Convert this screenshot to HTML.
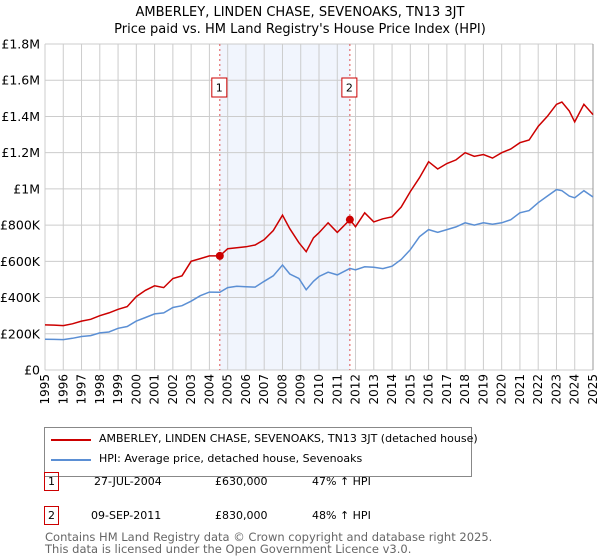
<!DOCTYPE html>
<html><head><meta charset="utf-8"><style>
body{margin:0;background:#fff;font-family:"Liberation Sans","DejaVu Sans",sans-serif;}
#wrap{position:relative;width:600px;height:560px;overflow:hidden}
.t{position:absolute;font-size:12px;color:#000;white-space:nowrap}
</style></head><body>
<div id="wrap">
<svg id="chart" width="600" height="560" style="position:absolute;left:0;top:0">
<text x="300" y="16" text-anchor="middle" font-size="13" font-family="DejaVu Sans, sans-serif">AMBERLEY, LINDEN CHASE, SEVENOAKS, TN13 3JT</text>
<text x="300" y="33" text-anchor="middle" font-size="13" font-family="DejaVu Sans, sans-serif">Price paid vs. HM Land Registry's House Price Index (HPI)</text>
<g id="plot"></g>
</svg>
<div style="position:absolute;left:44px;top:427px;width:428px;height:50px;border:1px solid #888;box-sizing:border-box">
 <div style="position:absolute;left:6px;top:11px;width:40px;height:2px;background:#cc0000"></div>
 <div style="position:absolute;left:54px;top:4px;font-size:11px;white-space:nowrap;font-family:'DejaVu Sans',sans-serif">AMBERLEY, LINDEN CHASE, SEVENOAKS, TN13 3JT (detached house)</div>
 <div style="position:absolute;left:6px;top:31px;width:40px;height:2px;background:#5b8fd4"></div>
 <div style="position:absolute;left:54px;top:24px;font-size:11px;white-space:nowrap;font-family:'DejaVu Sans',sans-serif">HPI: Average price, detached house, Sevenoaks</div>
</div>
<div>
<div style="position:absolute;left:44px;top:472px;width:15px;height:19px;border:1px solid #cc0000;box-sizing:border-box;font-size:11px;text-align:center;line-height:17px;font-family:'DejaVu Sans',sans-serif">1</div>
<div class="t" style="left:94px;top:475px;font-size:11px;font-family:'DejaVu Sans',sans-serif">27-JUL-2004</div>
<div class="t" style="left:215px;top:475px;font-size:11px;font-family:'DejaVu Sans',sans-serif">£630,000</div>
<div class="t" style="left:312px;top:475px;font-size:11px;font-family:'DejaVu Sans',sans-serif">47% ↑ HPI</div>
</div>
<div>
<div style="position:absolute;left:44px;top:506px;width:15px;height:19px;border:1px solid #cc0000;box-sizing:border-box;font-size:11px;text-align:center;line-height:17px;font-family:'DejaVu Sans',sans-serif">2</div>
<div class="t" style="left:91px;top:509px;font-size:11px;font-family:'DejaVu Sans',sans-serif">09-SEP-2011</div>
<div class="t" style="left:215px;top:509px;font-size:11px;font-family:'DejaVu Sans',sans-serif">£830,000</div>
<div class="t" style="left:312px;top:509px;font-size:11px;font-family:'DejaVu Sans',sans-serif">48% ↑ HPI</div>
</div>
<div class="t" style="left:45px;top:531px;font-size:11.5px;color:#666;line-height:12px;font-family:'DejaVu Sans',sans-serif">Contains HM Land Registry data © Crown copyright and database right 2025.<br>This data is licensed under the Open Government Licence v3.0.</div>
</div>
<script>
const years=[1995,1995.5,1996,1996.5,1997,1997.5,1998,1998.5,1999,1999.5,2000,2000.5,2001,2001.5,2002,2002.5,2003,2003.5,2004,2004.57,2005,2005.5,2006,2006.5,2007,2007.5,2008,2008.4,2008.9,2009.3,2009.7,2010,2010.5,2011,2011.69,2012,2012.5,2013,2013.5,2014,2014.5,2015,2015.5,2016,2016.5,2017,2017.5,2018,2018.5,2019,2019.5,2020,2020.5,2021,2021.5,2022,2022.5,2023,2023.3,2023.7,2024,2024.5,2025];
const hpi=[170,169,168,175,185,190,205,210,230,240,270,290,310,315,345,355,380,410,430,429,455,462,460,458,490,520,580,530,505,443,490,516,540,525,561,553,570,567,560,573,610,664,736,775,760,775,790,813,800,813,805,813,830,868,880,924,960,996,990,960,951,990,955];
const price=[249,248,245,255,270,280,300,315,335,350,405,440,465,455,505,520,600,615,630,630,670,675,680,690,720,770,855,780,703,653,730,758,813,760,830,791,868,818,835,846,900,985,1062,1150,1110,1140,1160,1200,1180,1190,1170,1200,1220,1255,1270,1345,1400,1467,1480,1430,1370,1467,1410];
const yTicks=[0,200,400,600,800,1000,1200,1400,1600,1800];
const yLabels=["£0","£200K","£400K","£600K","£800K","£1M","£1.2M","£1.4M","£1.6M","£1.8M"];
const sales=[{n:"1",year:2004.57,v:630},{n:"2",year:2011.69,v:830}];
const X0=45,X1=593,Y0=370,Y1=44;
const xs=y=>X0+(y-1995)/30*(X1-X0);
const ys=v=>Y0-v/1800*(Y0-Y1);
const NS="http://www.w3.org/2000/svg";
const g=document.getElementById('plot');
function mk(t,a){const e=document.createElementNS(NS,t);for(const k in a)e.setAttribute(k,a[k]);g.appendChild(e);return e;}
let r=mk('rect',{x:xs(sales[0].year),y:Y1,width:xs(sales[1].year)-xs(sales[0].year),height:Y0-Y1,fill:'#eef3fc',opacity:0.8});


for(let yr=1995;yr<=2025;yr++){
 let l=mk('line',{x1:xs(yr),x2:xs(yr),y1:Y1,y2:Y0,stroke:'#cccccc','stroke-width':1});
 
 
 let t=mk('text',{x:0,y:0,'font-size':12,'font-family':'DejaVu Sans, sans-serif','text-anchor':'end',transform:`translate(${xs(yr)+4},374) rotate(-90)`});
 t.textContent=yr;
 
 
}
yTicks.forEach((v,i)=>{
 let l=mk('line',{x1:X0,x2:X1,y1:ys(v),y2:ys(v),stroke:'#cccccc','stroke-width':1});
 
 
 let t=mk('text',{x:40,y:ys(v)+4.5,'font-size':12.5,'font-family':'DejaVu Sans, sans-serif','text-anchor':'end'});
 t.textContent=yLabels[i];
 
 
});
let ax=mk('line',{x1:X1,x2:X1,y1:Y1,y2:Y0,stroke:'#999','stroke-width':1});


function path(arr){return arr.map((v,i)=>(i?'L':'M')+xs(years[i]).toFixed(1)+','+ys(v).toFixed(1)).join(' ');}
let pb=mk('path',{d:path(hpi),fill:'none',stroke:'#5b8fd4','stroke-width':1.5});


let pr=mk('path',{d:path(price),fill:'none',stroke:'#cc0000','stroke-width':1.5});


sales.forEach(s=>{
 let l=mk('line',{x1:xs(s.year),x2:xs(s.year),y1:Y1,y2:Y0,stroke:'#e05050','stroke-width':1,'stroke-dasharray':'2,3'});
 
 
 let c=mk('circle',{cx:xs(s.year),cy:ys(s.v),r:4,fill:'#cc0000'});
 
 
 let b=mk('rect',{x:xs(s.year)-8,y:78,width:15,height:19,fill:'#fff',stroke:'#cc0000','stroke-width':1});
 
 
 let t=mk('text',{x:xs(s.year)-0.5,y:91.5,'font-size':11,'text-anchor':'middle','font-family':'DejaVu Sans, sans-serif'});
 t.textContent=s.n;
 
 
});
</script>
</body></html>
